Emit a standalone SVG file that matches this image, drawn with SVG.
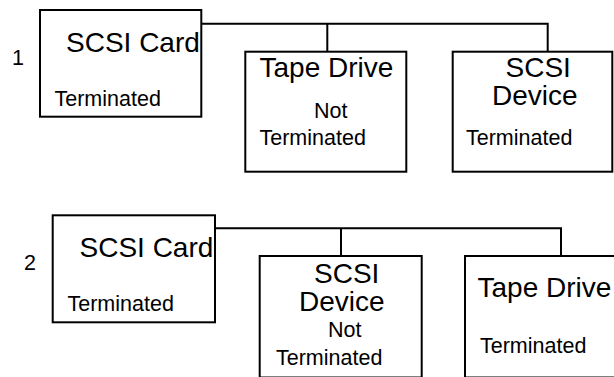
<svg xmlns="http://www.w3.org/2000/svg" width="614" height="377" viewBox="0 0 614 377">
<style>
.box{fill:none;stroke:#000;stroke-width:2}
.wire{fill:none;stroke:#000;stroke-width:2}
text{font-family:"Liberation Sans",Arial,sans-serif;fill:#000}
.t{font-size:28px}
.s{font-size:21.5px}
</style>
<rect width="614" height="377" fill="#fff"/>
<g id="connectors">
<path class="wire" d="M201.3 23.7 H547.7 V51.7 M327.3 23.7 V51.7"/>
<path class="wire" d="M215 228.3 H561 V256 M341 228.3 V256"/>
</g>
<text id="label-1" class="s" x="12" y="65">1</text>
<g id="d1-scsi-card">
<rect class="box" x="40" y="10" width="161.3" height="106.7"/>
<text class="t" x="66" y="52">SCSI Card</text>
<text class="s" x="54.5" y="106">Terminated</text>
</g>
<g id="d1-tape-drive">
<rect class="box" x="245.3" y="51.7" width="161" height="120"/>
<text class="t" x="259.5" y="77.3">Tape Drive</text>
<text class="s" x="314" y="118">Not</text>
<text class="s" x="259.5" y="145">Terminated</text>
</g>
<g id="d1-scsi-device">
<rect class="box" x="452.7" y="51.7" width="159.6" height="120"/>
<text class="t" x="505.5" y="77.3">SCSI</text>
<text class="t" x="492" y="105">Device</text>
<text class="s" x="466" y="145">Terminated</text>
</g>
<text id="label-2" class="s" x="24" y="270">2</text>
<g id="d2-scsi-card">
<rect class="box" x="52.7" y="215.3" width="162.3" height="107"/>
<text class="t" x="79.5" y="256.7">SCSI Card</text>
<text class="s" x="67.5" y="310.7">Terminated</text>
</g>
<g id="d2-scsi-device">
<path class="box" d="M259.7 377.5 V256 H421.7 V377.5 Z"/>
<text class="t" x="314" y="282.7">SCSI</text>
<text class="t" x="299" y="310.7">Device</text>
<text class="s" x="328" y="336.7">Not</text>
<text class="s" x="276" y="365">Terminated</text>
</g>
<g id="d2-tape-drive">
<path class="box" d="M465 377.5 V256 H625 V377.5 Z"/>
<text class="t" x="477.5" y="297.3">Tape Drive</text>
<text class="s" x="480" y="353.3">Terminated</text>
</g>
</svg>
